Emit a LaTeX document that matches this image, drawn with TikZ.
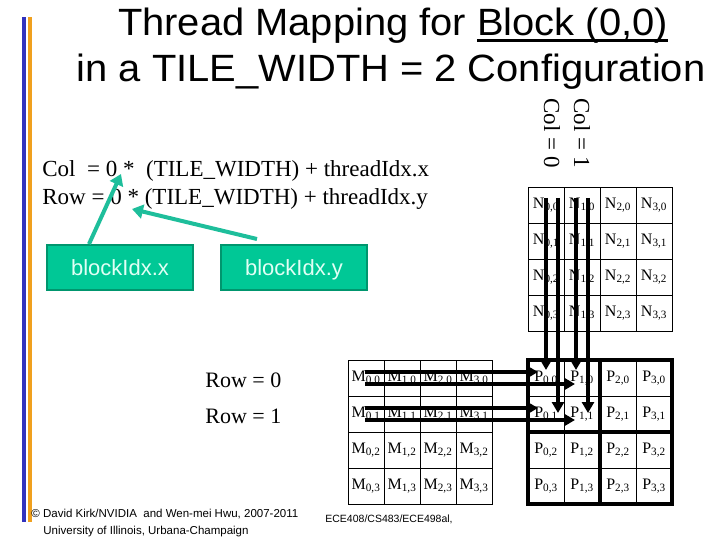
\documentclass[tikz,border=0pt]{standalone}
\usepackage{fontspec}
\setmainfont{Liberation Serif}
\setsansfont{Liberation Sans}
\newfontfamily\titulo[FakeStretch=1.05]{Liberation Sans}
\newcommand\subrayar[1]{\leavevmode\setbox0=\hbox{#1}\rlap{\rule[-6pt]{\wd0}{3pt}}\box0}
\usetikzlibrary{arrows.meta,calc}
\definecolor{barraazul}{RGB}{50,50,190}
\definecolor{barranaranja}{RGB}{240,160,30}
\definecolor{verdebox}{RGB}{0,200,150}
\definecolor{verdeborde}{RGB}{0,150,110}
\definecolor{verdeflecha}{RGB}{30,190,155}
\definecolor{textobox}{RGB}{225,255,245}

\begin{document}
\begin{tikzpicture}[x=1pt,y=-1pt,line width=0.8pt,
  celda/.style={draw,minimum size=36pt,inner sep=0pt,font=\fontsize{16}{16}\selectfont},
  caja/.style={draw=verdeborde,fill=verdebox,line width=2pt,minimum width=146pt,minimum height=45pt,text height=16pt,text depth=0pt,text=textobox,font=\sffamily\fontsize{22}{22}\selectfont},
  texto/.style={anchor=base west,inner sep=0pt,font=\fontsize{23}{23}\selectfont},
  negra/.style={line width=4pt,-{Triangle[length=11pt,width=12pt]}},
  verde/.style={verdeflecha,line width=4pt,-{Triangle[length=11pt,width=14pt]}}]
  \useasboundingbox (0,0) rectangle (720,540);
  % barras laterales
  \fill[barraazul] (22,17) rectangle (26,522);
  \fill[barranaranja] (28,17) rectangle (32,522);
  % titulo
  \node[anchor=base,font=\titulo\fontsize{38}{40}\selectfont] (tit1) at (393,36) {Thread Mapping for \subrayar{Block (0,0)}};
  \node[anchor=base,font=\titulo\fontsize{38}{40}\selectfont] (tit2) at (391,82) {in a TILE\_WIDTH = 2 Configuration};
  % formulas
  \node[texto] (fcol) at (42,177) {Col\ \ = 0 *\ \ (TILE\_WIDTH) + threadIdx.x};
  \node[texto] (frow) at (42,205) {Row = 0 * (TILE\_WIDTH) + threadIdx.y};
  \node[caja] (bx) at (120,267.5) {blockIdx.x};
  \node[caja] (by) at (294,267.5) {blockIdx.y};
  \coordinate (cero1) at (121,174);
  \coordinate (cero2) at (132,209);
  \draw[verde] ($(bx.north)+(-31,0)$) -- (cero1);
  \draw[verde] ($(by.north)+(-37,-5)$) -- (cero2);
  % etiquetas de fila y columna
  \node[texto,font=\fontsize{22}{22}\selectfont] (fila0) at (205,387) {Row = 0};
  \node[texto,font=\fontsize{22}{22}\selectfont] (fila1) at (205,423) {Row = 1};
  \node[rotate=-90,anchor=west,inner sep=0pt,font=\fontsize{23}{23}\selectfont] (col0) at (552,98) {Col = 0};
  \node[rotate=-90,anchor=west,inner sep=0pt,font=\fontsize{23}{23}\selectfont] (col1) at (582,98) {Col = 1};
  % matrices N, M y P
  \foreach \i in {0,...,3}{
    \foreach \j in {0,...,3}{
      \node[celda] (N\i\j) at (546+36*\i,205+36*\j) {N\textsubscript{\i,\j}};
      \node[celda] (M\i\j) at (366+36*\i,378+36*\j) {M\textsubscript{\i,\j}};
      \node[celda] (P\i\j) at (546+36*\i,378+36*\j) {P\textsubscript{\i,\j}};
    }
  }
  \draw[line width=4pt] (P00.north west) rectangle (P33.south east);
  \draw[line width=4pt] (P20.north west) -- (P23.south west);
  \draw[line width=4pt] (P02.north west) -- (P32.north east);
  % filas de M hacia P
  \draw[negra] ($(M00)+(-1,-6)$) -- ($(P00)+(-8,-6)$);
  \draw[negra] ($(M00)+(-1,6)$) -- ($(P10)+(-7,6)$);
  \draw[negra] ($(M01)+(-1,-6)$) -- ($(P01)+(-8,-6)$);
  \draw[negra] ($(M01)+(-1,6)$) -- ($(P11)+(-7,6)$);
  % columnas de N hacia P
  \draw[negra] ($(N00)+(0,-7)$) -- ($(P00)+(0,-8)$);
  \draw[negra] ($(N00)+(12,-7)$) -- ($(P01)+(12,-1)$);
  \draw[negra] ($(N10)+(-6,-7)$) -- ($(P10)+(-6,-8)$);
  \draw[negra] ($(N10)+(6,-7)$) -- ($(P11)+(6,-1)$);
  % pie
  \node[anchor=base west,inner sep=0pt,font=\sffamily\fontsize{11.5}{12}\selectfont] (pie1) at (31,517) {© David Kirk/NVIDIA\ \ and Wen-mei Hwu, 2007-2011};
  \node[anchor=base west,inner sep=0pt,font=\sffamily\fontsize{11.5}{12}\selectfont] (pie2) at (43,534) {University of Illinois, Urbana-Champaign};
  \node[anchor=base west,inner sep=0pt,font=\sffamily\fontsize{10.5}{12}\selectfont] (curso) at (325,522) {ECE408/CS483/ECE498al,};
\end{tikzpicture}
\end{document}
